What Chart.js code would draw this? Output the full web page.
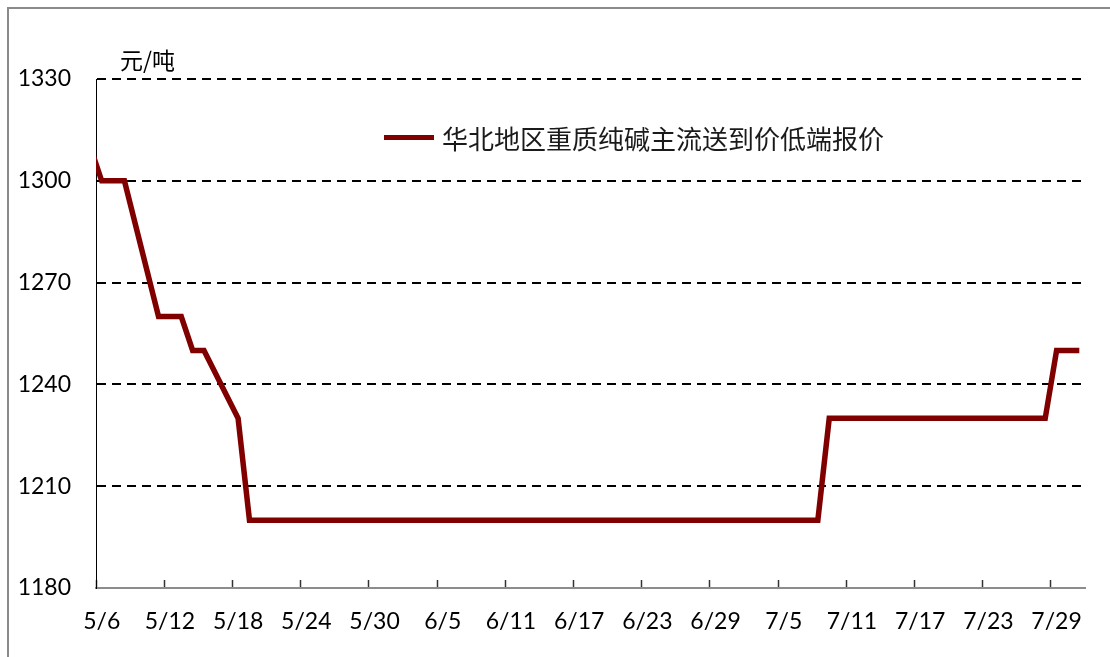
<!DOCTYPE html>
<html lang="zh-CN">
<head>
<meta charset="UTF-8">
<title>华北地区重质纯碱主流送到价低端报价</title>
<script src="https://cdn.jsdelivr.net/npm/chart.js"></script>
<style>
    body {
        margin: 0;
        width: 1110px;
        height: 657px;
        overflow: hidden;
        background: #fff;
        position: relative;
    }
    .frame {
        position: absolute;
        left: 7px;
        top: 7px;
        width: 1200px;
        height: 700px;
        border-top: 2px solid #8a8a8a;
        border-left: 2px solid #8a8a8a;
    }
    .chart-box {
        position: absolute;
        left: 0;
        top: 0;
        width: 1110px;
        height: 657px;
    }
    .unit {
        position: absolute;
        left: 120px;
        top: 45px;
        font: 23px "Noto Sans CJK SC", sans-serif;
        color: #000;
        line-height: 28px;
    }
    .legend {
        position: absolute;
        left: 384px;
        top: 122px;
        height: 30px;
        display: flex;
        align-items: center;
        font: 26px "Noto Sans CJK SC", sans-serif;
        color: #1a1a1a;
    }
    .legend .swatch {
        width: 50px;
        height: 5px;
        background: #800000;
        margin-right: 8px;
    }
</style>
</head>
<body>
<div class="frame"></div>
<div class="chart-box"><canvas id="grafico"></canvas></div>
<div class="unit">元/吨</div>
<div class="legend"><span class="swatch"></span><span id="legenda"></span></div>

<script>
// datas (2020), fins de semana sem cotação = null
const datas = [
    '5/5', '5/6', '5/7', '5/8', '5/9', '5/10', '5/11', '5/12', '5/13', '5/14', '5/15', '5/16', '5/17',
    '5/18', '5/19', '5/20', '5/21', '5/22', '5/23', '5/24', '5/25', '5/26', '5/27', '5/28', '5/29', '5/30', '5/31',
    '6/1', '6/2', '6/3', '6/4', '6/5', '6/6', '6/7', '6/8', '6/9', '6/10', '6/11', '6/12', '6/13', '6/14',
    '6/15', '6/16', '6/17', '6/18', '6/19', '6/20', '6/21', '6/22', '6/23', '6/24', '6/25', '6/26', '6/27', '6/28',
    '6/29', '6/30', '7/1', '7/2', '7/3', '7/4', '7/5', '7/6', '7/7', '7/8', '7/9', '7/10', '7/11', '7/12',
    '7/13', '7/14', '7/15', '7/16', '7/17', '7/18', '7/19', '7/20', '7/21', '7/22', '7/23', '7/24', '7/25', '7/26',
    '7/27', '7/28', '7/29', '7/30', '7/31'
];

const precos = [
    1310, 1300, 1300, 1300, null, null, 1260, 1260, 1260, 1250, 1250, null, null,
    1230, 1200, 1200, 1200, 1200, null, null, 1200, 1200, 1200, 1200, 1200, null, null,
    1200, 1200, 1200, 1200, 1200, null, null, 1200, 1200, 1200, 1200, 1200, null, null,
    1200, 1200, 1200, 1200, 1200, null, null, 1200, 1200, 1200, 1200, 1200, null, null,
    1200, 1200, 1200, 1200, 1200, null, null, 1200, 1200, 1200, 1230, 1230, null, null,
    1230, 1230, 1230, 1230, 1230, null, null, 1230, 1230, 1230, 1230, 1230, null, null,
    1230, 1230, 1250, 1250, 1250
];

const rotulosX = ['5/6', '5/12', '5/18', '5/24', '5/30', '6/5', '6/11', '6/17', '6/23', '6/29', '7/5', '7/11', '7/17', '7/23', '7/29'];
const rotulosY = [1180, 1210, 1240, 1270, 1300, 1330];

const nomeSerie = '华北地区重质纯碱主流送到价低端报价';
document.getElementById('legenda').textContent = nomeSerie;

const fonte = { family: 'Lato, "Open Sans", sans-serif', size: 23 };
Chart.defaults.color = '#000';

const ehRotulo = (ctx) => ctx.tick && rotulosX.includes(datas[ctx.tick.value]);

const ctx = document.getElementById('grafico');

let grafico = new Chart(ctx, {
    type: 'line',
    data: {
        labels: datas,
        datasets: [{
            label: nomeSerie,
            data: precos,
            borderColor: '#800000',
            borderWidth: 5.5,
            pointRadius: 0,
            tension: 0,
            spanGaps: true,
            clip: 0
        }]
    },
    options: {
        responsive: true,
        maintainAspectRatio: false,
        animation: false,
        layout: {
            padding: { left: 0, top: 79, right: 25, bottom: 0 }
        },
        plugins: {
            legend: { display: false },
            tooltip: { enabled: false }
        },
        scales: {
            x: {
                type: 'category',
                min: '5/6',
                offset: true,
                grid: {
                    offset: true,
                    drawOnChartArea: false,
                    drawTicks: true,
                    tickLength: -8,
                    tickWidth: 1.5,
                    tickColor: (c) => ehRotulo(c) ? '#333' : 'rgba(0,0,0,0)'
                },
                border: { display: true, color: '#8c8c8c', width: 2 },
                ticks: {
                    autoSkip: false,
                    maxRotation: 0,
                    padding: 28,
                    font: fonte,
                    callback: function (value) {
                        const d = datas[value];
                        return rotulosX.includes(d) ? d : '';
                    }
                },
                afterFit: (scale) => { scale.height = 69; }
            },
            y: {
                min: 1180,
                max: 1330,
                afterBuildTicks: (scale) => {
                    scale.ticks = rotulosY.map(v => ({ value: v }));
                },
                grid: {
                    drawTicks: false,
                    lineWidth: 2,
                    color: (c) => c.tick && c.tick.value === 1180 ? 'rgba(0,0,0,0)' : '#000'
                },
                border: { display: true, color: '#000', width: 1, dash: [9, 6] },
                ticks: {
                    padding: 25,
                    font: fonte,
                    callback: (v) => String(v)
                },
                afterFit: (scale) => { scale.width = 96; }
            }
        }
    }
});
</script>
</body>
</html>
